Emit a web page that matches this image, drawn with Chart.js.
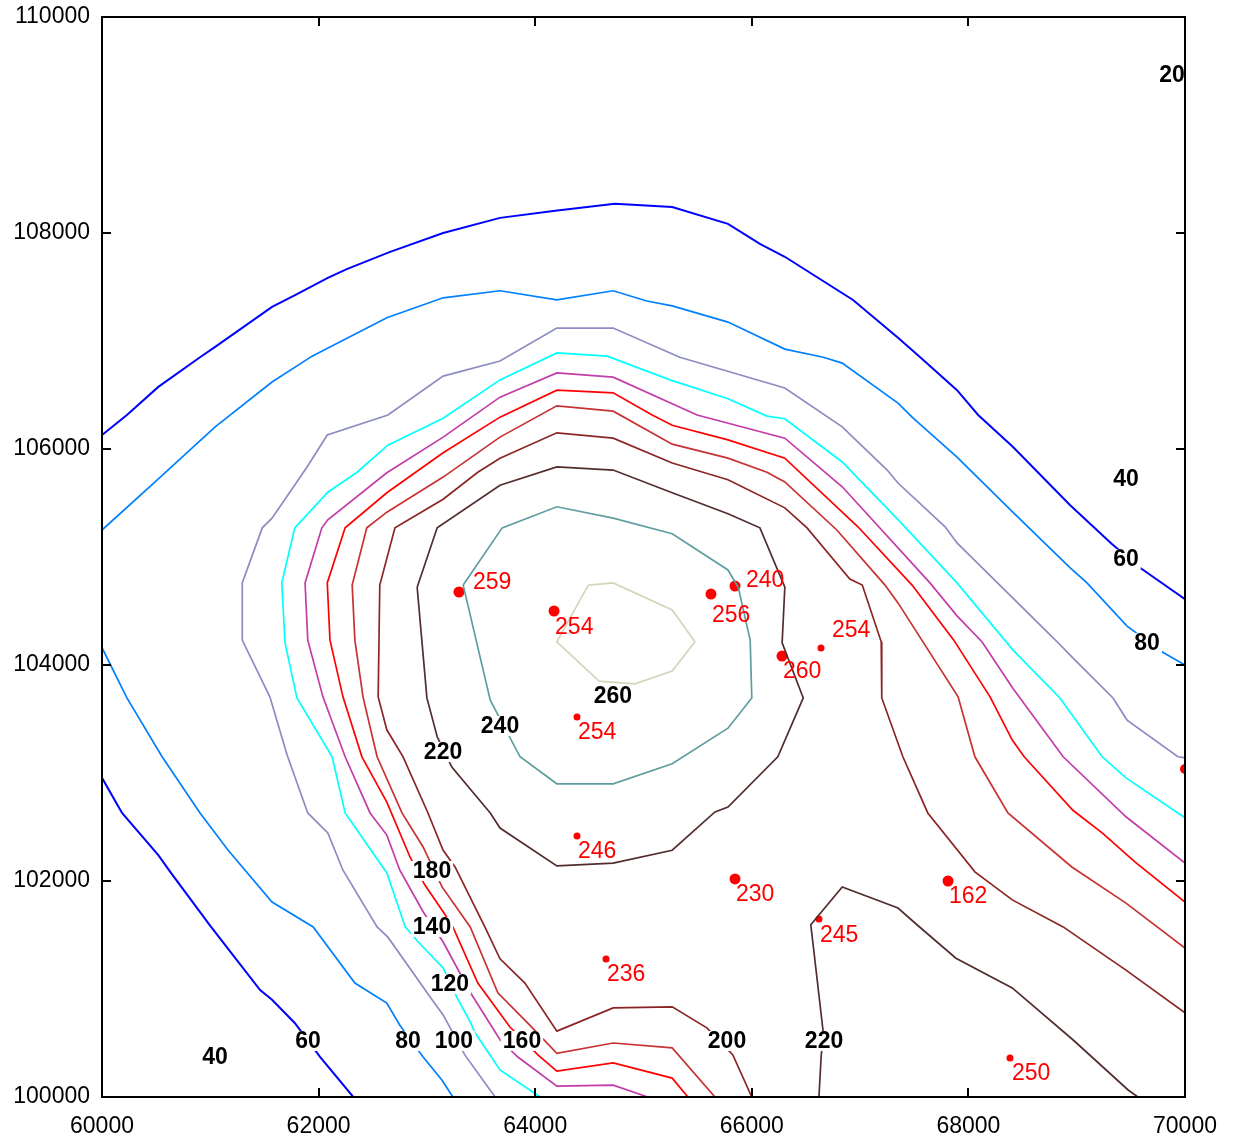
<!DOCTYPE html>
<html>
<head>
<meta charset="utf-8">
<script src="https://cdn.jsdelivr.net/npm/chart.js@4.4.1/dist/chart.umd.min.js"></script>
<style>
  html, body { margin: 0; padding: 0; background: #fff; }
</style>
</head>
<body>
<canvas id="contour" width="1234" height="1142"></canvas>
<script>
// axes
const xTicks = [60000, 62000, 64000, 66000, 68000, 70000];
const yTicks = [100000, 102000, 104000, 106000, 108000, 110000];

// contour polylines, [x, y] in map units
const c60top = [[60000,106130],[60230,106315],[60520,106575],[60905,106850],[61045,106945],[61570,107315],[61765,107415],[62085,107585],[62260,107665],[62660,107825],[63150,108000],[63675,108140],[64185,108205],[64735,108270],[65265,108240],[65780,108085],[66075,107900],[66305,107780],[66935,107380],[67350,107030],[67555,106850],[67895,106545],[68090,106315],[68410,106020],[68940,105480],[69325,105120],[69585,104900],[70000,104610]];
const c60low = [[60000,102955],[60185,102630],[60520,102240],[60630,102085],[61000,101585],[61460,100990],[61570,100900],[61780,100685],[62015,100370],[62320,100000]];

const c80top = [[60000,105250],[60490,105695],[61045,106205],[61570,106620],[61940,106860],[62105,106945],[62630,107215],[63150,107400],[63675,107465],[64200,107380],[64720,107465],[65030,107370],[65265,107325],[65780,107175],[66305,106925],[66660,106850],[66835,106795],[67350,106425],[67480,106295],[67895,105925],[68410,105415],[68940,104900],[69095,104760],[69465,104360],[69790,104120],[70000,104000]];
const c80low = [[60000,104160],[60230,103695],[60555,103150],[60905,102630],[61165,102285],[61570,101805],[61950,101575],[62335,101055],[62630,100870],[62750,100665],[62965,100370],[63140,100155],[63240,100000]];

const c100 = [[63630,100000],[63350,100390],[63150,100760],[63030,100925],[62640,101480],[62540,101575],[62225,102100],[62085,102445],[61900,102630],[61710,103165],[61550,103705],[61295,104230],[61295,104760],[61480,105270],[61570,105360],[61895,105835],[62080,106130],[62640,106315],[63150,106675],[63675,106815],[64200,107120],[64720,107120],[65335,106850],[66305,106565],[66835,106205],[67250,105805],[67350,105685],[67785,105280],[67895,105130],[68820,104215],[68955,104075],[69335,103695],[69465,103490],[69935,103150],[70000,103140]];

const c120 = [[64045,100000],[63675,100250],[63445,100595],[63400,100695],[63280,100915],[63150,101195],[62920,101435],[62800,101575],[62630,102075],[62245,102630],[62125,103150],[61800,103695],[61690,104205],[61660,104760],[61780,105270],[62085,105600],[62355,105785],[62640,106035],[63150,106285],[63675,106640],[64200,106890],[64665,106860],[65245,106640],[65780,106465],[66140,106305],[66305,106280],[66835,105880],[67370,105325],[67895,104760],[68410,104140],[68845,103695],[69235,103150],[69455,102955],[70000,102585]];

const c140 = [[65040,100000],[64720,100110],[64200,100100],[63840,100370],[63675,100530],[63400,100970],[63150,101435],[62965,101715],[62750,102100],[62630,102425],[62475,102630],[62245,103150],[62040,103705],[61900,104230],[61875,104760],[62030,105270],[62085,105345],[62630,105780],[63150,106110],[63675,106480],[64200,106705],[64720,106665],[65495,106315],[66305,106100],[66835,105650],[67645,104760],[67895,104455],[68125,104215],[68410,103785],[68875,103150],[69455,102595],[70000,102165]];

const c160 = [[65410,100000],[65265,100175],[64720,100315],[64200,100240],[64025,100390],[63765,100650],[63470,101055],[63240,101575],[63150,101715],[62980,101965],[62845,102220],[62630,102730],[62400,103150],[62225,103705],[62105,104230],[62080,104760],[62245,105270],[62630,105595],[63150,105965],[63675,106295],[64200,106545],[64720,106520],[65080,106315],[65265,106220],[65780,106085],[66305,105915],[66980,105280],[67480,104740],[67865,104230],[68200,103705],[68405,103305],[68515,103150],[68965,102655],[69235,102445],[69540,102175],[70000,101805]];

const c180 = [[65660,100000],[65265,100455],[64720,100500],[64200,100405],[63950,100665],[63655,100965],[63400,101575],[63140,101945],[62965,102315],[62770,102630],[62540,103150],[62410,103705],[62335,104230],[62310,104740],[62445,105270],[62630,105415],[63150,105740],[63675,106110],[64200,106400],[64720,106350],[65265,106045],[65780,105915],[66140,105785],[66305,105695],[66785,105250],[67230,104740],[67350,104575],[67905,103705],[68060,103150],[68365,102630],[68955,102130],[69455,101795],[70000,101380]];

const c200 = [[66000,100000],[65825,100390],[65585,100640],[65265,100835],[64720,100825],[64200,100610],[63905,101055],[63675,101280],[63535,101575],[63260,102130],[63150,102285],[63010,102630],[62780,103150],[62630,103400],[62550,103705],[62565,104740],[62705,105270],[63150,105535],[63470,105785],[63675,105915],[64200,106150],[64720,106100],[65265,105870],[65550,105785],[65780,105715],[66305,105455],[66510,105270],[66905,104795],[67020,104740],[67195,104215],[67200,103695],[67395,103150],[67625,102630],[68060,102085],[68405,101825],[68875,101575],[69455,101175],[70000,100780]];

const c220ring = [[62910,104720],[63095,105270],[63675,105665],[64200,105835],[64720,105805],[65265,105595],[65780,105400],[66075,105270],[66305,104720],[66280,104205],[66475,103695],[66240,103150],[65780,102685],[65660,102640],[65265,102285],[64720,102165],[64200,102140],[63675,102490],[63585,102630],[63230,103055],[63095,103335],[63000,103695],[62910,104720]];
const c220low = [[66620,100000],[66640,100370],[66660,100595],[66545,101595],[66835,101945],[67350,101750],[67525,101595],[67885,101285],[68405,101010],[68965,100530],[69475,100065],[69565,100000]];

const c240 = [[63335,104740],[63695,105270],[64200,105465],[64720,105360],[65265,105215],[65780,104880],[65875,104720],[65985,104230],[66000,103695],[65780,103415],[65265,103085],[64720,102900],[64200,102900],[63860,103150],[63585,103675],[63335,104740]];

const c260 = [[64490,104740],[64720,104760],[65265,104510],[65475,104215],[65265,103945],[64920,103825],[64590,103850],[64200,104215],[64490,104740]];

// contour level labels
const levelText = ['20', '40', '60', '80', '40', '60', '80', '100', '160', '200', '220', '120', '140', '180', '220', '240', '260'];
const levelX = [69880, 69455, 69455, 69650, 61043, 61902, 62825, 63250, 63878, 65771, 66667, 63213, 63047, 63047, 63149, 63675, 64718];
const levelY = [109463, 105722, 104981, 104204, 100370, 100519, 100519, 100519, 100519, 100519, 100519, 101046, 101574, 102093, 103194, 103435, 103713];

// sample points
const siteX = [63296, 64174, 65623, 65845, 66639, 66279, 64386, 64386, 65845, 67812, 66620, 64654, 68384, 70000];
const siteY = [104676, 104500, 104657, 104731, 104157, 104083, 103519, 102417, 102019, 102000, 101648, 101278, 100361, 103037];
const siteVal = ['259', '254', '256', '240', '254', '260', '254', '246', '230', '162', '245', '236', '250', ''];

// styling
const siteRadius = [5.5, 5.5, 5.5, 5.5, 3.5, 5.5, 3.5, 3.5, 5.5, 5.5, 3.5, 3.5, 3.5, 5];
const siteLabelOffset = [[14,-10],[1,16],[1,21],[11,-6],[11,-18],[1,15],[1,15],[1,15],[1,15],[1,15],[1,16],[1,15],[2,15],[0,0]];

const LEVEL_COLORS = {
  60: '#0000ff', 80: '#0080ff', 100: '#8c8cc2', 120: '#00ffff', 140: '#c43ca8',
  160: '#ff0000', 180: '#c83232', 200: '#8b2525', 220: '#532d2d', 240: '#5f9ea0', 260: '#d6d4bc'
};

const contours = [
  [60, c60top], [60, c60low], [80, c80top], [80, c80low], [100, c100], [120, c120],
  [140, c140], [160, c160], [180, c180], [200, c200], [220, c220ring], [220, c220low],
  [240, c240], [260, c260]
];

const FONT = '"Liberation Sans", Arial, Helvetica, sans-serif';

document.addEventListener('DOMContentLoaded', () => {
  const ctx = document.getElementById('contour').getContext('2d');

  const datasets = contours.map(([level, pts]) => ({
    label: String(level),
    data: pts.map(p => ({ x: p[0], y: p[1] })),
    showLine: true,
    borderColor: LEVEL_COLORS[level],
    borderWidth: level === 60 ? 2 : 1.7,
    pointRadius: 0,
    fill: false,
    tension: 0,
    clip: 0
  }));

  datasets.push({
    label: 'sites',
    data: siteX.map((x, i) => ({ x, y: siteY[i] })),
    showLine: false,
    pointRadius: siteRadius,
    pointBackgroundColor: '#ff0000',
    pointBorderWidth: 0,
    clip: 0
  });

  // white background
  const bgPlugin = {
    id: 'bg',
    beforeDraw(chart) {
      const c = chart.ctx;
      c.save();
      c.fillStyle = '#fff';
      c.fillRect(0, 0, chart.width, chart.height);
      c.restore();
    }
  };

  // level labels and site values
  const labelPlugin = {
    id: 'labels',
    afterDatasetsDraw(chart) {
      const c = chart.ctx;
      const { x, y } = chart.scales;
      c.save();
      c.font = 'bold 23px ' + FONT;
      c.textAlign = 'center';
      c.textBaseline = 'middle';
      levelText.forEach((t, i) => {
        const px = x.getPixelForValue(levelX[i]);
        const py = y.getPixelForValue(levelY[i]);
        const w = c.measureText(t).width;
        c.fillStyle = '#fff';
        c.fillRect(px - w / 2 - 2, py - 10, w + 4, 20);
        c.fillStyle = '#000';
        c.fillText(t, px, py + 1);
      });

      c.font = '23px ' + FONT;
      c.textAlign = 'left';
      c.fillStyle = '#ff0000';
      siteVal.forEach((t, i) => {
        if (!t) return;
        const px = x.getPixelForValue(siteX[i]);
        const py = y.getPixelForValue(siteY[i]);
        c.fillText(t, px + siteLabelOffset[i][0], py + siteLabelOffset[i][1] + 1);
      });
      c.restore();
    }
  };

  // frame with inward ticks on all sides
  const framePlugin = {
    id: 'frame',
    afterDraw(chart) {
      const c = chart.ctx;
      const { left, right, top, bottom } = chart.chartArea;
      const { x, y } = chart.scales;
      c.save();
      c.strokeStyle = '#000';
      c.lineWidth = 2;
      c.strokeRect(left, top, right - left, bottom - top);
      c.beginPath();
      xTicks.forEach(v => {
        const p = Math.round(x.getPixelForValue(v));
        c.moveTo(p, bottom); c.lineTo(p, bottom - 9);
        c.moveTo(p, top); c.lineTo(p, top + 9);
      });
      yTicks.forEach(v => {
        const p = Math.round(y.getPixelForValue(v));
        c.moveTo(left, p); c.lineTo(left + 9, p);
        c.moveTo(right, p); c.lineTo(right - 9, p);
      });
      c.stroke();
      c.restore();
    }
  };

  new Chart(ctx, {
    type: 'scatter',
    data: { datasets },
    options: {
      responsive: false,
      animation: false,
      layout: { padding: { top: 17, right: 49, left: 0, bottom: 0 } },
      plugins: {
        legend: { display: false },
        tooltip: { enabled: false }
      },
      scales: {
        x: {
          type: 'linear',
          min: 60000,
          max: 70000,
          afterBuildTicks: s => { s.ticks = xTicks.map(v => ({ value: v })); },
          afterFit: s => { s.height = 45; s.paddingLeft = 0; s.paddingRight = 0; },
          grid: { display: false, drawTicks: false },
          border: { display: false },
          ticks: {
            color: '#000',
            padding: 16,
            maxRotation: 0,
            font: { family: FONT, size: 23 },
            callback: v => String(v)
          }
        },
        y: {
          type: 'linear',
          min: 100000,
          max: 110000,
          afterBuildTicks: s => { s.ticks = yTicks.map(v => ({ value: v })); },
          afterFit: s => { s.width = 102; s.paddingTop = 0; s.paddingBottom = 0; },
          grid: { display: false, drawTicks: false },
          border: { display: false },
          ticks: {
            color: '#000',
            padding: 12,
            font: { family: FONT, size: 23 },
            callback: v => String(v)
          }
        }
      }
    },
    plugins: [bgPlugin, labelPlugin, framePlugin]
  });
});
</script>
</body>
</html>
